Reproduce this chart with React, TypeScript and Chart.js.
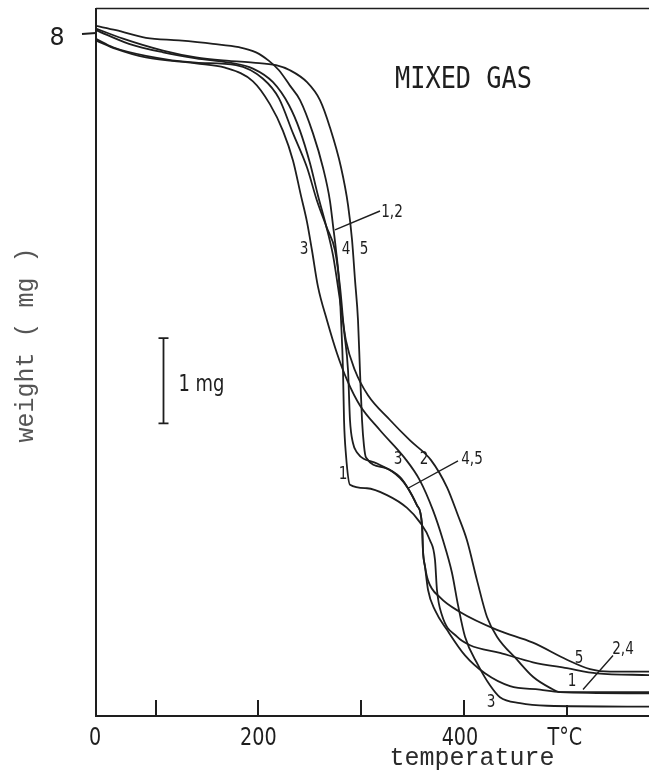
import React, { useEffect, useRef } from "react";
import { Chart, registerables } from "chart.js";

Chart.register(...registerables);

// Thermogravimetric runs 1-5 in mixed gas: temperature (°C) against sample weight (mg)
const run1Temp = [42, 61.5, 90.6, 122.7, 155.8, 181.1, 197.7, 210.3, 220.0, 230.7, 240.5, 253.1, 262.8, 269.6, 272.6, 275.5, 278.4, 280.4, 282.3, 283.3, 285.2, 289.1, 305.6, 325.1, 344.6, 357.2, 366.9, 371.8, 373.7, 378.6, 393.2, 405.9, 435.0, 467.1, 500.2, 529.4, 580];
const run1Weight = [8.09, 8.04, 7.95, 7.92, 7.88, 7.84, 7.78, 7.68, 7.57, 7.39, 7.22, 6.83, 6.43, 6.04, 5.75, 5.46, 5.11, 4.64, 4.05, 3.47, 3.06, 2.71, 2.67, 2.59, 2.44, 2.27, 2.06, 1.83, 1.48, 1.18, 0.93, 0.83, 0.74, 0.63, 0.56, 0.5, 0.48];

const run2Temp = [42, 74.1, 107.2, 139.3, 171.4, 194.7, 214.2, 229.8, 240.5, 250.2, 258.0, 265.8, 272.6, 279.4, 285.2, 294.0, 306.6, 328.0, 347.5, 367.9, 383.5, 394.2, 402.9, 412.7, 422.4, 432.1, 451.6, 467.1, 483.7, 493.4, 580];
const run2Weight = [8.04, 7.88, 7.78, 7.71, 7.66, 7.59, 7.43, 7.16, 6.86, 6.48, 6.1, 5.75, 5.4, 4.87, 4.4, 4.05, 3.76, 3.47, 3.23, 3.0, 2.68, 2.35, 2.06, 1.59, 1.16, 0.93, 0.66, 0.46, 0.33, 0.28, 0.28];

const run3Temp = [42, 61.5, 90.6, 139.3, 167.5, 194.7, 211.3, 223.9, 233.7, 241.4, 247.3, 252.1, 258.0, 266.7, 276.5, 286.2, 298.8, 318.3, 342.6, 357.2, 369.9, 379.6, 388.3, 394.2, 401.0, 413.6, 425.3, 435.0, 454.5, 480.8, 580];
const run3Weight = [7.92, 7.82, 7.72, 7.65, 7.6, 7.44, 7.17, 6.86, 6.51, 6.1, 5.79, 5.46, 5.03, 4.64, 4.25, 3.94, 3.64, 3.35, 3.02, 2.76, 2.41, 2.06, 1.68, 1.3, 0.93, 0.6, 0.36, 0.22, 0.15, 0.12, 0.11];

const run4Temp = [42, 58.5, 90.6, 139.3, 178.2, 204.5, 220.0, 233.7, 247.3, 257.0, 266.7, 274.5, 279.4, 283.3, 287.2, 289.1, 292.0, 295.9, 315.4, 337.8, 345.5, 354.3, 359.2, 360.1, 362.1, 365.0, 371.8, 383.5, 401.0, 420.4, 444.8, 473.9, 493.4, 580];
const run4Weight = [7.94, 7.84, 7.74, 7.66, 7.63, 7.47, 7.24, 6.83, 6.43, 6.04, 5.72, 5.46, 5.03, 4.52, 4.05, 3.47, 3.2, 3.09, 2.96, 2.8, 2.67, 2.47, 2.24, 1.94, 1.75, 1.48, 1.24, 1.01, 0.71, 0.5, 0.35, 0.31, 0.28, 0.265];

const run5Temp = [42, 68.3, 107.2, 139.3, 171.4, 194.7, 217.1, 230.7, 247.3, 259.9, 269.6, 280.4, 287.2, 291.1, 294.0, 296.9, 298.8, 300.8, 302.7, 304.7, 323.2, 337.8, 345.5, 354.3, 359.2, 360.1, 362.1, 365.0, 376.7, 396.1, 432.1, 467.1, 500.2, 522.6, 542.1, 580];
const run5Weight = [8.06, 7.94, 7.8, 7.72, 7.68, 7.66, 7.63, 7.57, 7.43, 7.22, 6.9, 6.43, 5.99, 5.58, 5.11, 4.64, 4.05, 3.47, 3.17, 3.03, 2.91, 2.79, 2.67, 2.47, 2.24, 1.94, 1.75, 1.59, 1.39, 1.22, 1.01, 0.86, 0.66, 0.55, 0.52, 0.52];

// Axis ranges and ticks
const tempMin = 42; // start of the heating run, marked as the origin "0"
const tempMax = 580;
const weightMax = 8.3;
const tempTickMarks = [100, 200, 300, 400, 500];
const tempTickValues = [42, 200, 400, 500];
const tempTickLabels = ["0", "200", "400", "T°C"];
const weightTickValue = 8;
const weightTickLabel = "8";

// Run numbers written beside the curves, and the leader lines pointing at them
const curveLabelText = ["1,2", "3", "4", "5", "1", "3", "2", "4,5", "5", "2,4", "1", "3"];
const curveLabelTemp = [330.0, 244.4, 285.2, 302.7, 282.3, 335.8, 361.1, 407.8, 511.9, 554.7, 505.1, 426.3];
const curveLabelWeight = [5.92, 5.49, 5.49, 5.49, 2.85, 3.02, 3.02, 3.03, 0.69, 0.8, 0.42, 0.18];
const leaderFromTemp = [274.5, 345.5, 515.8];
const leaderFromWeight = [5.7, 2.67, 0.31];
const leaderToTemp = [318.3, 394.2, 545.0];
const leaderToWeight = [5.92, 2.99, 0.71];

// 1 mg scale bar
const scaleBarTemp = 107.2;
const scaleBarLow = 3.43;
const scaleBarSpan = 1;

const INK = "#1e1e1e";

const runs = [
  [run1Temp, run1Weight],
  [run2Temp, run2Weight],
  [run3Temp, run3Weight],
  [run4Temp, run4Weight],
  [run5Temp, run5Weight],
];

function drawText(
  ctx: CanvasRenderingContext2D,
  text: string,
  x: number,
  y: number,
  font: string,
  sx: number,
  align: CanvasTextAlign,
  color: string = INK
) {
  ctx.save();
  ctx.translate(x, y);
  ctx.scale(sx, 1);
  ctx.font = font;
  ctx.textAlign = align;
  ctx.textBaseline = "alphabetic";
  ctx.fillStyle = color;
  ctx.fillText(text, 0, 0);
  ctx.restore();
}

const tgaDecor = {
  id: "tgaDecor",
  beforeDatasetsDraw(chart: any) {
    const { ctx, chartArea: a, scales } = chart;
    const x = scales.x;
    const y = scales.y;
    ctx.save();
    ctx.strokeStyle = INK;
    ctx.lineCap = "butt";

    // frame: left axis, bottom axis, top border
    ctx.lineWidth = 2;
    ctx.beginPath();
    ctx.moveTo(a.left, a.top);
    ctx.lineTo(a.left, a.bottom);
    ctx.lineTo(a.right, a.bottom);
    ctx.stroke();
    ctx.lineWidth = 1.6;
    ctx.beginPath();
    ctx.moveTo(a.left, a.top + 0.5);
    ctx.lineTo(a.right, a.top + 0.5);
    ctx.stroke();

    // inward tick marks on the temperature axis
    ctx.lineWidth = 2;
    ctx.beginPath();
    tempTickMarks.forEach((v) => {
      const px = Math.round(x.getPixelForValue(v));
      const len = v === 500 ? 11 : 16;
      ctx.moveTo(px, a.bottom);
      ctx.lineTo(px, a.bottom - len);
    });
    // outward tick at the "8" mg level
    const py8 = y.getPixelForValue(weightTickValue);
    ctx.moveTo(a.left - 14, py8 + 0.5);
    ctx.lineTo(a.left, py8 - 0.5);
    ctx.stroke();
    ctx.restore();
  },
  afterDatasetsDraw(chart: any) {
    const { ctx, chartArea: a, scales } = chart;
    const x = scales.x;
    const y = scales.y;
    const sans = "DejaVu Sans, Noto Sans, sans-serif";
    const mono = "Liberation Mono, DejaVu Sans Mono, monospace";

    // tick labels
    tempTickValues.forEach((v, i) => {
      let px = x.getPixelForValue(v);
      if (i === 0) px -= 1;
      if (i === 2) px -= 4;
      if (i === 3) px -= 2;
      drawText(ctx, tempTickLabels[i], px, a.bottom + 29, `24px ${sans}`, 0.8, "center");
    });
    drawText(ctx, weightTickLabel, a.left - 39, y.getPixelForValue(weightTickValue) + 11, `25px ${sans}`, 0.95, "center");

    // axis titles
    drawText(ctx, "temperature", a.left + (a.right - a.left) * 0.68, a.bottom + 49, `25px ${mono}`, 1, "center", "#2a2a2a");
    ctx.save();
    ctx.translate(33, a.top + (a.bottom - a.top) * 0.476);
    ctx.rotate(-Math.PI / 2);
    ctx.font = `25px ${mono}`;
    ctx.textAlign = "center";
    ctx.textBaseline = "alphabetic";
    ctx.fillStyle = "#555";
    ctx.fillText("weight ( mg )", 0, 0);
    ctx.restore();

    // chart heading
    drawText(ctx, "MIXED GAS", a.left + 299, a.top + 80, "31px DejaVu Sans Mono, monospace", 0.815, "left");

    // 1 mg scale bar
    const bx = Math.round(x.getPixelForValue(scaleBarTemp)) + 0.5;
    const by0 = y.getPixelForValue(scaleBarLow);
    const by1 = y.getPixelForValue(scaleBarLow + scaleBarSpan);
    ctx.save();
    ctx.strokeStyle = INK;
    ctx.lineWidth = 1.8;
    ctx.beginPath();
    ctx.moveTo(bx, by0);
    ctx.lineTo(bx, by1);
    ctx.moveTo(bx - 5, by0);
    ctx.lineTo(bx + 5, by0);
    ctx.moveTo(bx - 5, by1);
    ctx.lineTo(bx + 5, by1);
    ctx.stroke();
    ctx.restore();
    drawText(ctx, "1 mg", bx + 15, (by0 + by1) / 2 + 10, `23px ${sans}`, 0.78, "left");

    // leader lines
    ctx.save();
    ctx.strokeStyle = INK;
    ctx.lineWidth = 1.4;
    ctx.beginPath();
    leaderFromTemp.forEach((t, i) => {
      ctx.moveTo(x.getPixelForValue(t), y.getPixelForValue(leaderFromWeight[i]));
      ctx.lineTo(x.getPixelForValue(leaderToTemp[i]), y.getPixelForValue(leaderToWeight[i]));
    });
    ctx.stroke();
    ctx.restore();

    // run numbers
    curveLabelText.forEach((txt, i) => {
      const px = x.getPixelForValue(curveLabelTemp[i]);
      const py = y.getPixelForValue(curveLabelWeight[i]);
      drawText(ctx, txt, px, py + 6, `17px ${sans}`, 0.8, "center");
    });
  },
};

export default function App() {
  const canvasRef = useRef<HTMLCanvasElement | null>(null);

  useEffect(() => {
    const canvas = canvasRef.current;
    if (!canvas) return;
    const datasets = runs.map(([temps, weights], i) => ({
      label: `run ${i + 1}`,
      data: temps.map((t, k) => ({ x: t, y: weights[k] })),
      borderColor: INK,
      borderWidth: 1.8,
      pointRadius: 0,
      fill: false,
      cubicInterpolationMode: "monotone" as const,
    }));
    const chart = new Chart(canvas, {
      type: "line",
      data: { datasets },
      options: {
        animation: false,
        responsive: false,
        devicePixelRatio: 1,
        layout: { padding: { left: 96, top: 8, right: 0, bottom: 57 } },
        plugins: {
          legend: { display: false },
          tooltip: { enabled: false },
          title: { display: false },
        },
        scales: {
          x: { type: "linear", min: tempMin, max: tempMax, display: false },
          y: { type: "linear", min: 0, max: weightMax, display: false },
        },
      },
      plugins: [tgaDecor],
    });
    return () => chart.destroy();
  }, []);

  return (
    <div style={{ position: "fixed", left: 0, top: 0, width: 649, height: 773, background: "#fff" }}>
      <canvas ref={canvasRef} width={649} height={773} style={{ display: "block" }} />
    </div>
  );
}
